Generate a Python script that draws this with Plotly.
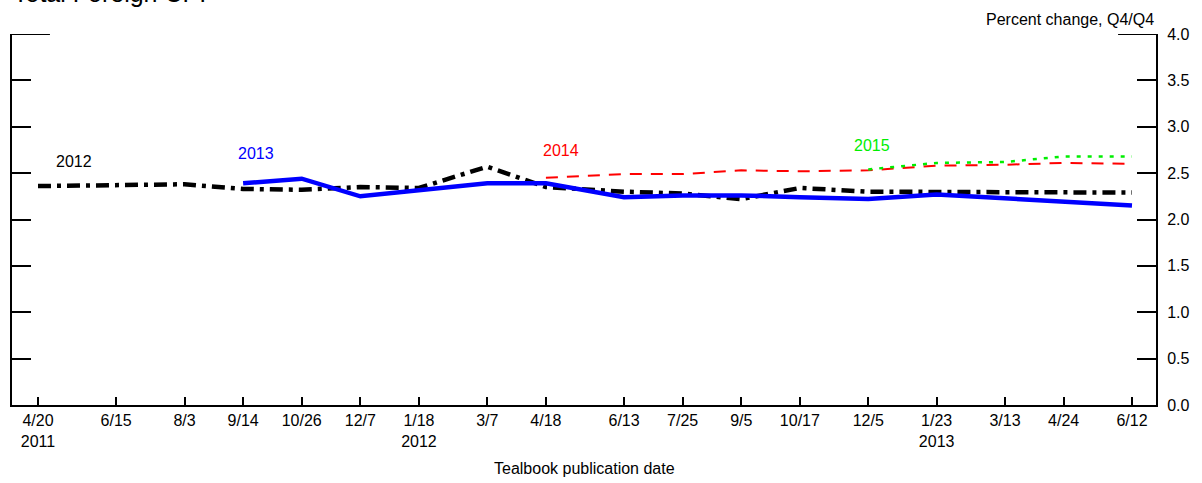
import plotly.graph_objects as go

# Tealbook publication dates (x positions) and tick labels
dates = ["2011-04-20", "2011-06-15", "2011-08-03", "2011-09-14", "2011-10-26",
         "2011-12-07", "2012-01-18", "2012-03-07", "2012-04-18", "2012-06-13",
         "2012-07-25", "2012-09-05", "2012-10-17", "2012-12-05", "2013-01-23",
         "2013-03-13", "2013-04-24", "2013-06-12"]
tick_text = ["4/20<br>2011", "6/15", "8/3", "9/14", "10/26", "12/7", "1/18<br>2012",
             "3/7", "4/18", "6/13", "7/25", "9/5", "10/17", "12/5", "1/23<br>2013",
             "3/13", "4/24", "6/12"]

# Forecasts of total foreign CPI, percent change Q4/Q4
cpi_2012 = [2.36, 2.37, 2.38, 2.33, 2.32, 2.35, 2.34, 2.57, 2.35, 2.30,
            2.28, 2.22, 2.34, 2.30, 2.30, 2.29, 2.29, 2.29]
cpi_2013 = [2.39, 2.44, 2.25, 2.31, 2.39, 2.39, 2.24, 2.26, 2.26, 2.24,
            2.22, 2.27, 2.23, 2.20, 2.15]
cpi_2014 = [2.45, 2.49, 2.49, 2.53, 2.52, 2.53, 2.58, 2.59, 2.61, 2.60]
cpi_2015 = [2.54, 2.61, 2.62, 2.68, 2.68]

y_ticks = [0.0, 0.5, 1.0, 1.5, 2.0, 2.5, 3.0, 3.5, 4.0]
y_text = ["%.1f" % v for v in y_ticks]

FONT = "Liberation Sans, Arial, Helvetica, sans-serif"

fig = go.Figure()
fig.add_trace(go.Scatter(x=dates, y=cpi_2012, mode="lines", name="2012",
                         line=dict(color="black", width=4.5, dash="13px,6px,4px,6px")))
fig.add_trace(go.Scatter(x=dates[3:], y=cpi_2013, mode="lines", name="2013",
                         line=dict(color="#0000ff", width=4.5)))
fig.add_trace(go.Scatter(x=dates[8:], y=cpi_2014, mode="lines", name="2014",
                         line=dict(color="#ff0000", width=2, dash="12px,9px")))
fig.add_trace(go.Scatter(x=dates[13:], y=cpi_2015, mode="lines", name="2015",
                         line=dict(color="#00ee00", width=2.5, dash="4px,7px")))

labels = [("2012", "2011-05-16", 2.62, "black"),
          ("2013", "2011-09-23", 2.71, "#0000ff"),
          ("2014", "2012-04-29", 2.74, "#ff0000"),
          ("2015", "2012-12-08", 2.80, "#00ee00")]
annotations = []
for txt, xd, yv, col in labels:
    annotations.append(dict(text=txt, x=xd, y=yv, xref="x", yref="y", showarrow=False,
                            font=dict(size=16, color=col, family=FONT)))

annotations += [
    dict(text="Total Foreign CPI", xref="paper", yref="paper", x=0, y=1,
         xanchor="left", yanchor="middle", xshift=-1, yshift=41, showarrow=False,
         font=dict(size=25, color="black", family=FONT)),
    dict(text="Percent change, Q4/Q4", xref="paper", yref="paper", x=1, y=1,
         xanchor="right", yanchor="middle", yshift=15, showarrow=False,
         font=dict(size=16, color="black", family=FONT)),
    dict(text="Tealbook publication date", xref="paper", yref="paper", x=0.5, y=0,
         xanchor="center", yanchor="middle", yshift=-63, showarrow=False,
         font=dict(size=16, color="black", family=FONT)),
]

tick_frac = 38.0 / 1146.0
shapes = [
    dict(type="line", xref="paper", yref="y", x0=0, x1=tick_frac, y0=4, y1=4,
         line=dict(color="black", width=2)),
    dict(type="line", xref="paper", yref="y", x0=1 - tick_frac, x1=1, y0=4, y1=4,
         line=dict(color="black", width=2)),
]

fig.update_layout(
    width=1202, height=483,
    margin=dict(l=10, r=46, t=34, b=78),
    paper_bgcolor="white", plot_bgcolor="white",
    showlegend=False,
    font=dict(family=FONT, size=16, color="black"),
    annotations=annotations,
    shapes=shapes,
    xaxis=dict(type="date", range=["2011-04-01 09:00", "2013-06-29 05:00"],
               tickvals=dates, ticktext=tick_text, tickmode="array",
               ticks="inside", ticklen=8, tickwidth=2, tickcolor="black",
               showline=True, linecolor="black", linewidth=2, mirror=False,
               showgrid=False, zeroline=False,
               tickfont=dict(size=16, color="black", family=FONT)),
    yaxis=dict(range=[0, 4], side="right", tickvals=y_ticks, ticktext=y_text,
               tickmode="array", ticks="inside", ticklen=19, tickwidth=2,
               tickcolor="black", showline=True, linecolor="black", linewidth=2,
               mirror="ticks", showgrid=False, zeroline=False,
               ticklabelstandoff=6,
               tickfont=dict(size=16, color="black", family=FONT)),
)

fig.write_html("out.html",
               config={"displayModeBar": False},
               post_script="document.body.style.margin='0';document.body.style.overflow='hidden';")
